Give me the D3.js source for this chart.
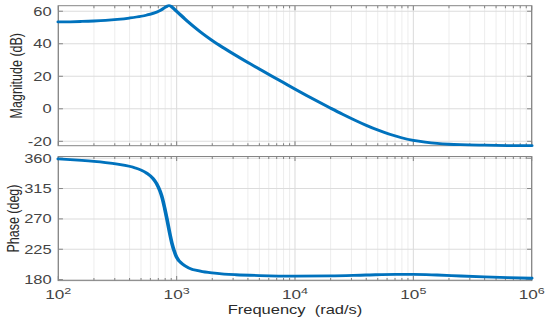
<!DOCTYPE html>
<html><head><meta charset="utf-8">
<script src="https://cdn.jsdelivr.net/npm/d3@7"></script>
<style>html,body{margin:0;padding:0;background:#fff;overflow:hidden}</style>
</head><body>
<script>
// ---- data ----
const magFreq = [100,126,158,200,251,316,398,501,562,631,708,759,794,832,861,891,933,1000,1122,1259,1413,1585,1995,2512,3162,3981,5012,6310,7943,10000,12589,15849,19953,25119,31623,39811,50119,63096,79433,100000,125893,158489,199526,251189,398107,630957,1000000];
const magDb   = [53.4,53.5,53.7,54.0,54.4,55.0,55.8,56.9,57.7,58.7,60.1,61.3,62.3,63.1,63.4,63.1,62.0,59.9,56.6,53.3,50.2,47.3,42.0,37.3,32.8,28.5,24.4,20.3,16.2,12.1,8.1,4.2,0.4,-3.3,-6.8,-10.1,-13.1,-15.7,-17.8,-19.4,-20.5,-21.3,-21.8,-22.1,-22.4,-22.6,-22.7];
const phFreq  = [100,126,158,200,251,316,398,447,501,562,631,676,724,759,794,832,871,912,955,1000,1122,1259,1585,1995,2512,3162,5012,10000,19953,39811,70795,100000,158489,251189,398107,630957,1000000];
const phDeg   = [359,358,356.8,355.3,353.5,351.2,348,345.5,342.3,337.5,330,322.5,311,300,285,268,250,234,222,213,203,197.5,192.5,189.8,188.2,187.2,186,185.2,185.5,186.8,187.8,187.8,186.8,185.3,184,182.9,182];
const xTicks  = [1e2,1e3,1e4,1e5,1e6];
const xTickExp = ["2","3","4","5","6"];
const magTicks = [-20,0,20,40,60];
const phTicks  = [180,225,270,315,360];

// ---- layout ----
const W = 550, H = 321, sx = 1.32;
const L = 58.3 / sx, R = 531.7 / sx;
const mag = {top: 5.7, bottom: 145.7};
const ph  = {top: 156.5, bottom: 280.6};
const frameC = "#858585", majC = "#dcdcdc", minC = "#eeeeee", txtC = "#444";
const font = "'Liberation Sans', Arial, Helvetica, sans-serif";

const svg = d3.select("body").append("svg").attr("width", W).attr("height", H);
const g = svg.append("g").attr("transform", `scale(${sx},1)`);

const x = d3.scaleLog().domain([1e2, 1e6]).range([L, R]);
const yMag = d3.scaleLinear().domain([-22.7, 63.4]).range([mag.bottom, mag.top]);
const yPh  = d3.scaleLinear().domain([178.5, 362.5]).range([ph.bottom, ph.top]);

const minors = [];
for (let d = 2; d < 6; d++) for (let k = 2; k <= 9; k++) minors.push(k * Math.pow(10, d));

function panel(box, y, yt, freq, vals) {
  const a = g.append("g");
  a.selectAll(".mg").data(minors).join("line")
    .attr("x1", d => x(d)).attr("x2", d => x(d)).attr("y1", box.top).attr("y2", box.bottom)
    .attr("stroke", minC).attr("stroke-width", 0.8);
  a.selectAll(".Mg").data(xTicks.slice(1, -1)).join("line")
    .attr("x1", d => x(d)).attr("x2", d => x(d)).attr("y1", box.top).attr("y2", box.bottom)
    .attr("stroke", majC).attr("stroke-width", 0.8);
  a.selectAll(".yg").data(yt).join("line")
    .attr("x1", L).attr("x2", R).attr("y1", d => y(d)).attr("y2", d => y(d))
    .attr("stroke", majC).attr("stroke-width", 1);
  [[box.bottom, -1], [box.top, 1]].forEach(([yy, dir]) => {
    a.selectAll(null).data(minors).join("line")
      .attr("x1", d => x(d)).attr("x2", d => x(d)).attr("y1", yy).attr("y2", yy + dir * 2.5)
      .attr("stroke", frameC).attr("stroke-width", 0.8);
    a.selectAll(null).data(xTicks).join("line")
      .attr("x1", d => x(d)).attr("x2", d => x(d)).attr("y1", yy).attr("y2", yy + dir * 4.5)
      .attr("stroke", frameC).attr("stroke-width", 0.8);
  });
  [[L, 1], [R, -1]].forEach(([xx, dir]) => {
    a.selectAll(null).data(yt).join("line")
      .attr("x1", xx).attr("x2", xx + dir * 3.5).attr("y1", d => y(d)).attr("y2", d => y(d))
      .attr("stroke", frameC).attr("stroke-width", 1);
  });
  a.append("rect").attr("x", L).attr("y", box.top).attr("width", R - L).attr("height", box.bottom - box.top)
    .attr("fill", "none").attr("stroke", frameC).attr("stroke-width", 1);
  a.selectAll(".yl").data(yt).join("text")
    .attr("x", L - 5).attr("y", d => y(d)).attr("dy", "0.36em")
    .attr("text-anchor", "end").attr("font-family", font).attr("font-size", 12.5).attr("fill", txtC)
    .text(d => d);
  const pts = freq.map((f, i) => [f, vals[i]]);
  a.append("path").datum(pts)
    .attr("d", d3.line().x(d => x(d[0])).y(d => y(d[1])).curve(d3.curveMonotoneX))
    .attr("fill", "none").attr("stroke", "#0072BD").attr("stroke-width", 2.8)
    .attr("stroke-linejoin", "round").attr("stroke-linecap", "round");
}

panel(mag, yMag, magTicks, magFreq, magDb);
panel(ph, yPh, phTicks, phFreq, phDeg);

const xl = g.selectAll(".xl").data(xTicks).join("text")
  .attr("x", d => x(d)).attr("y", 299.5).attr("text-anchor", "middle")
  .attr("font-family", font).attr("font-size", 13).attr("fill", txtC);
xl.append("tspan").text("10");
xl.append("tspan").attr("dy", -5.5).attr("font-size", 9.5).text((d, i) => xTickExp[i]);

g.append("text").attr("x", (L + R) / 2).attr("y", 314.5)
  .attr("text-anchor", "middle").attr("font-family", font).attr("font-size", 12.5).attr("fill", "#2a2a2a")
  .style("white-space", "pre")
  .text("Frequency  (rad/s)");
g.append("text").attr("transform", `translate(${21.5 / sx},${(mag.top + mag.bottom) / 2}) rotate(-90)`)
  .attr("text-anchor", "middle").attr("font-family", font).attr("font-size", 12.5).attr("fill", "#2a2a2a")
  .text("Magnitude (dB)");
g.append("text").attr("transform", `translate(${18.5 / sx},${(ph.top + ph.bottom) / 2}) rotate(-90)`)
  .attr("text-anchor", "middle").attr("font-family", font).attr("font-size", 12.5).attr("fill", "#2a2a2a")
  .text("Phase (deg)");
</script>
</body></html>
